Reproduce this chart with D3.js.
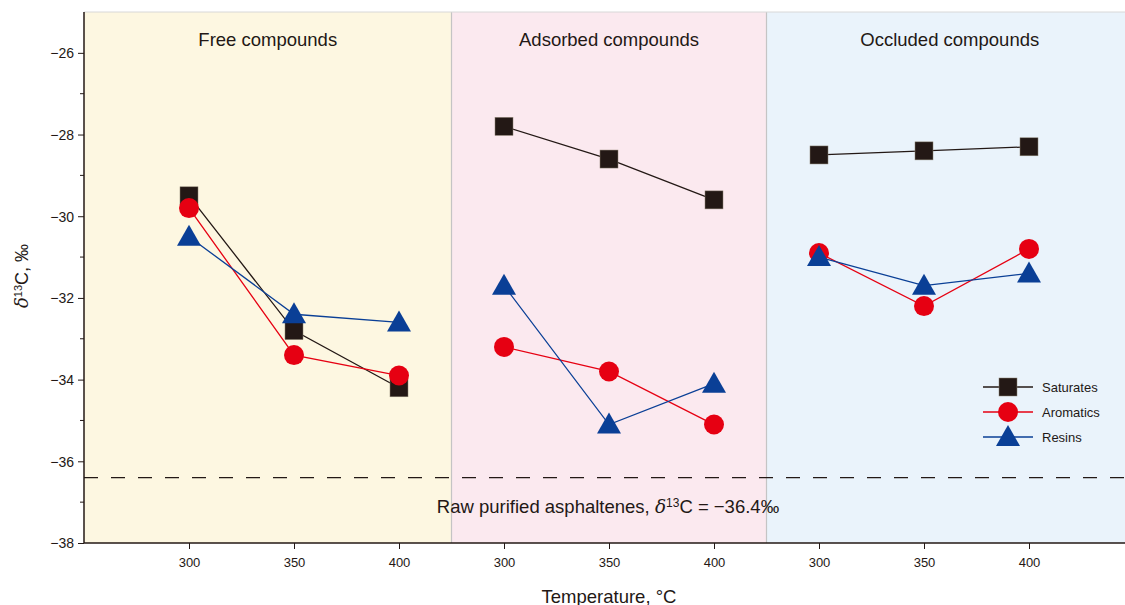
<!DOCTYPE html>
<html>
<head>
<meta charset="utf-8">
<script src="https://cdn.jsdelivr.net/npm/d3@7"></script>
<style>
  body { margin: 0; background: #fff; }
  text { font-family: "Liberation Sans", Arial, sans-serif; fill: #231815; }
</style>
</head>
<body>
<svg id="chart" width="1125" height="605"></svg>
<script>
// data
var panels = ["Free compounds", "Adsorbed compounds", "Occluded compounds"];
var temps = [300, 350, 400];
var saturates = [[-29.5, -32.8, -34.2], [-27.8, -28.6, -29.6], [-28.5, -28.4, -28.3]];
var aromatics = [[-29.8, -33.4, -33.9], [-33.2, -33.8, -35.1], [-30.9, -32.2, -30.8]];
var resins    = [[-30.5, -32.4, -32.6], [-31.7, -35.1, -34.1], [-31.0, -31.7, -31.4]];
var rawValue = -36.4;
var yTicks = [-26, -28, -30, -32, -34, -36, -38];
var yMinor = [-27, -29, -31, -33, -35, -37];

var series = [
  {name: "Saturates", values: saturates, color: "#231815", shape: "square"},
  {name: "Aromatics", values: aromatics, color: "#e60012", shape: "circle"},
  {name: "Resins",    values: resins,    color: "#0a3f96", shape: "triangle"}
];
var panelFill = ["#fdf7e1", "#fbe9ef", "#eaf3fb"];

var svg = d3.select("#chart");
var plotLeft = 84, plotTop = 12, plotBottom = 543;

// x position: continuous index, 3 slots per panel
var x = d3.scaleLinear().domain([-1, 9]).range([plotLeft, plotLeft + 1050]);
var y = d3.scaleLinear().domain([-38, -25]).range([plotBottom, plotTop]);

function idx(p, i) { return p * 3 + i; }

// panel backgrounds
var bounds = [-1, 2.5, 5.5, 9];
panels.forEach(function(name, p){
    svg.append("rect")
        .attr("x", x(bounds[p]))
        .attr("y", plotTop)
        .attr("width", x(bounds[p + 1]) - x(bounds[p]))
        .attr("height", plotBottom - plotTop)
        .style("fill", panelFill[p]);
    svg.append("text")
        .attr("x", (x(bounds[p]) + Math.min(x(bounds[p + 1]), 1125)) / 2 + (p === 2 ? 4 : 0))
        .attr("y", 46)
        .attr("text-anchor", "middle")
        .style("font-size", "18.5px")
        .text(name);
});
[2.5, 5.5].forEach(function(b){
    svg.append("line")
        .attr("x1", x(b)).attr("x2", x(b))
        .attr("y1", plotTop).attr("y2", plotBottom)
        .style("stroke", "#c4c4c4").style("stroke-width", 1.2);
});
svg.append("line")
    .attr("x1", plotLeft).attr("x2", 1125)
    .attr("y1", plotTop).attr("y2", plotTop)
    .style("stroke", "#d8d8d8").style("stroke-width", 1);

// raw asphaltenes dashed line
svg.append("line")
    .attr("x1", plotLeft).attr("x2", 1125)
    .attr("y1", y(rawValue)).attr("y2", y(rawValue))
    .style("stroke", "#231815").style("stroke-width", 1.2)
    .style("stroke-dasharray", "14,13");

var ann = svg.append("text")
    .attr("x", 608).attr("y", 513)
    .attr("text-anchor", "middle")
    .style("font-size", "18.5px");
ann.append("tspan").text("Raw purified asphaltenes, ");
ann.append("tspan").style("font-family", "'DejaVu Serif', serif").style("font-style", "italic").text("δ");
ann.append("tspan").attr("dy", -6).style("font-size", "12px").text("13");
ann.append("tspan").attr("dy", 6).text("C = \u221236.4\u2030");

// y axis
var yAxis = d3.axisLeft(y).tickValues(yTicks).tickSize(6).tickPadding(4)
    .tickFormat(function(d){ return "\u2212" + Math.abs(d); });
var gy = svg.append("g").attr("transform", "translate(" + plotLeft + ",0)").call(yAxis);
gy.selectAll("text").style("font-size", "14px").attr("dy", "0.35em");
gy.append("g").selectAll("line").data(yMinor).enter().append("line")
    .attr("x1", -4).attr("x2", 0)
    .attr("y1", function(d){ return y(d); }).attr("y2", function(d){ return y(d); })
    .style("stroke", "#231815");
gy.select(".domain").attr("d", "M0," + plotTop + "V" + plotBottom).style("stroke", "#231815").style("stroke-width", 1.5);
gy.selectAll(".tick line").style("stroke", "#231815");

// x axis
var xVals = [], xLabels = {};
panels.forEach(function(n, p){
    temps.forEach(function(t, i){ xVals.push(idx(p, i)); xLabels[idx(p, i)] = t; });
});
var xAxis = d3.axisBottom(x).tickValues(xVals).tickSize(6).tickPadding(9)
    .tickFormat(function(d){ return xLabels[d]; });
var gx = svg.append("g").attr("transform", "translate(0," + plotBottom + ")").call(xAxis);
gx.select(".domain").attr("d", "M" + plotLeft + ",0H1125").style("stroke", "#231815").style("stroke-width", 1.5);
gx.selectAll(".tick line").style("stroke", "#231815");
gx.selectAll("text").style("font-size", "13px");

svg.append("text")
    .attr("x", 609).attr("y", 603)
    .attr("text-anchor", "middle")
    .style("font-size", "18.5px")
    .text("Temperature, \u00b0C");

var yl = svg.append("text")
    .attr("transform", "translate(28,276) rotate(-90)")
    .attr("text-anchor", "middle")
    .style("font-size", "18px");
yl.append("tspan").style("font-family", "'DejaVu Serif', serif").style("font-style", "italic").text("δ");
yl.append("tspan").attr("dy", -6).style("font-size", "11px").text("13");
yl.append("tspan").attr("dy", 6).text("C, \u2030");

// marker drawing
function drawMarker(g, shape, cx, cy, color) {
    if (shape === "square") {
        g.append("rect").attr("x", cx - 9).attr("y", cy - 9)
            .attr("width", 18).attr("height", 18)
            .style("fill", color).style("stroke", "#8a8070").style("stroke-width", 0.5);
    } else if (shape === "circle") {
        g.append("circle").attr("cx", cx).attr("cy", cy).attr("r", 10)
            .style("fill", color);
    } else {
        g.append("path")
            .attr("d", "M" + cx + "," + (cy - 12) + "L" + (cx + 12) + "," + (cy + 9) + "L" + (cx - 12) + "," + (cy + 9) + "Z")
            .style("fill", color);
    }
}

var line = d3.line()
    .x(function(d){ return x(d.i); })
    .y(function(d){ return y(d.v); });

var plot = svg.append("g");
series.forEach(function(s){
    s.values.forEach(function(vals, p){
        var pts = vals.map(function(v, i){ return {i: idx(p, i), v: v}; });
        plot.append("path").datum(pts)
            .attr("d", line)
            .style("fill", "none")
            .style("stroke", s.color)
            .style("stroke-width", 1.3);
    });
});
series.forEach(function(s){
    s.values.forEach(function(vals, p){
        vals.forEach(function(v, i){
            drawMarker(plot, s.shape, x(idx(p, i)), y(v), s.color);
        });
    });
});

// legend
var legend = svg.append("g").attr("transform", "translate(983,387)");
series.forEach(function(s, k){
    var row = legend.append("g").attr("transform", "translate(0," + (k * 25) + ")");
    row.append("line").attr("x1", 0).attr("x2", 50).attr("y1", 0).attr("y2", 0)
        .style("stroke", s.color).style("stroke-width", 1.3);
    drawMarker(row, s.shape, 25, 0, s.color);
    row.append("text").attr("x", 59).attr("y", 4.5)
        .style("font-size", "13px").text(s.name);
});
</script>
</body>
</html>
